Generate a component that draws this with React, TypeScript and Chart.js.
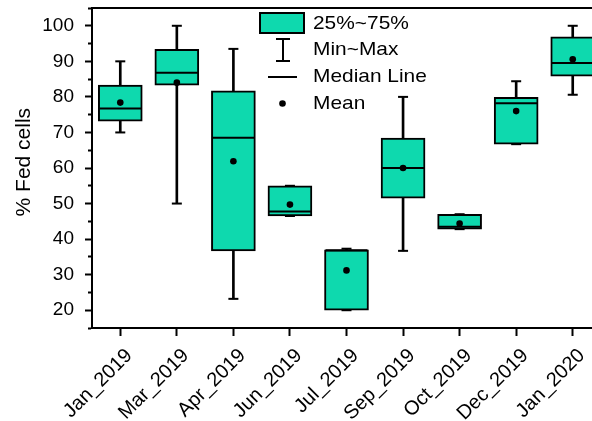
import React, { useEffect, useRef } from 'react';
import { Chart, registerables } from 'chart.js';

Chart.register(...registerables);

// ---- Data ----
const categories = ['Jan_2019', 'Mar_2019', 'Apr_2019', 'Jun_2019', 'Jul_2019', 'Sep_2019', 'Oct_2019', 'Dec_2019', 'Jan_2020'];
const minVals = [70.0, 50.0, 23.2, 46.5, 20.0, 36.7, 42.8, 66.7, 80.6];
const q1Vals = [73.2, 83.3, 36.7, 46.5, 20.0, 51.5, 42.8, 66.7, 85.8];
const medianVals = [76.7, 86.8, 68.5, 47.8, 36.9, 60.0, 43.5, 78.2, 89.5];
const q3Vals = [83.3, 93.4, 81.7, 55.0, 37.0, 68.4, 47.0, 79.9, 96.9];
const maxVals = [90.0, 100.0, 93.5, 55.0, 37.3, 80.0, 47.0, 84.4, 100.0];
const meanVals = [78.4, 84.0, 61.9, 49.7, 31.2, 60.0, 44.4, 76.0, 90.6];
const legendLabels = ['25%~75%', 'Min~Max', 'Median Line', 'Mean'];
const yTitle = '% Fed cells';

const TEAL = 'rgb(14, 217, 174)';
const FONT = "'Liberation Sans', Arial, sans-serif";
// The y-axis label overhang puts the plot top at 22px inside the canvas;
// the canvas is shifted up so that the plot top sits at 7px on the page.
const SHIFT = 15;
// The plot continues past the right edge of the page (last box is cut off).
const CANVAS_W = 624;

const originLegend = {
  id: 'originLegend',
  afterDraw(chart: any) {
    const ctx = chart.ctx as CanvasRenderingContext2D;
    ctx.save();
    ctx.translate(0, SHIFT);
    ctx.strokeStyle = '#000';
    ctx.lineWidth = 2;
    // 25%~75% box
    ctx.fillStyle = TEAL;
    ctx.fillRect(259, 12, 46, 22);
    ctx.strokeRect(260, 13, 44, 20);
    // Min~Max I-bar
    ctx.beginPath();
    ctx.moveTo(283, 39); ctx.lineTo(283, 61);
    ctx.moveTo(276, 39); ctx.lineTo(290, 39);
    ctx.moveTo(276, 61); ctx.lineTo(290, 61);
    ctx.stroke();
    // Median line
    ctx.beginPath();
    ctx.moveTo(268, 77); ctx.lineTo(297, 77);
    ctx.stroke();
    // Mean dot
    ctx.fillStyle = '#000';
    ctx.beginPath();
    ctx.arc(282.5, 103.5, 3.3, 0, Math.PI * 2);
    ctx.fill();
    // Texts
    ctx.font = `19px ${FONT}`;
    ctx.textBaseline = 'middle';
    ctx.textAlign = 'left';
    const ys = [23.5, 50, 77, 103.5];
    legendLabels.forEach((t, i) => {
      ctx.save();
      ctx.translate(313, ys[i]);
      ctx.scale(1.1, 1);
      ctx.fillText(t, 0, 0);
      ctx.restore();
    });
    ctx.restore();
  },
};

export default function App() {
  const ref = useRef<HTMLCanvasElement | null>(null);

  useEffect(() => {
    document.body.style.margin = '0';
    document.body.style.overflow = 'hidden';
    const canvas = ref.current;
    if (!canvas) return;
    Chart.defaults.font.family = FONT;
    Chart.defaults.color = '#000';

    const isMinor = (c: any) => c && c.tick && Math.round(c.tick.value) % 10 !== 0;

    const chart = new Chart(canvas, {
      type: 'bar',
      data: {
        labels: categories,
        datasets: [
          {
            type: 'line', label: 'Mean', data: meanVals, showLine: false,
            pointStyle: 'circle', pointRadius: 3.3, pointHoverRadius: 3.3,
            pointBackgroundColor: '#000', pointBorderColor: '#000', pointBorderWidth: 0, order: 1,
          } as any,
          {
            type: 'line', label: 'Max', data: maxVals, showLine: false,
            pointStyle: 'line', pointRadius: 5, pointHoverRadius: 5,
            pointBorderColor: '#000', pointBorderWidth: 2, order: 2,
          } as any,
          {
            type: 'line', label: 'Min', data: minVals, showLine: false,
            pointStyle: 'line', pointRadius: 5, pointHoverRadius: 5,
            pointBorderColor: '#000', pointBorderWidth: 2, order: 2,
          } as any,
          {
            type: 'line', label: 'Median', data: medianVals, showLine: false,
            pointStyle: 'line', pointRadius: 21, pointHoverRadius: 21,
            pointBorderColor: '#000', pointBorderWidth: 2, order: 3,
          } as any,
          {
            type: 'bar', label: '25%~75%',
            data: categories.map((_, i) => [q1Vals[i], q3Vals[i]]),
            backgroundColor: TEAL, borderColor: '#000', borderWidth: 2, borderSkipped: false,
            barThickness: 44, grouped: false, order: 4,
          } as any,
          {
            type: 'bar', label: 'Min~Max',
            data: categories.map((_, i) => [minVals[i], maxVals[i]]),
            backgroundColor: '#000', borderWidth: 0, barThickness: 2, grouped: false, order: 5,
          } as any,
        ],
      },
      options: {
        animation: false,
        responsive: false,
        events: [],
        layout: { padding: { top: 0, left: 0, right: 0, bottom: 0 } },
        plugins: { legend: { display: false }, tooltip: { enabled: false } },
        scales: {
          x: {
            type: 'category', position: 'bottom', offset: true,
            grid: { display: true, drawOnChartArea: false, offset: false, tickLength: 8, tickWidth: 2, tickColor: '#000' },
            border: { display: true, color: '#000', width: 2 },
            ticks: { color: '#000', font: { family: FONT, size: 20 }, maxRotation: 45, minRotation: 45, autoSkip: false, padding: 8, labelOffset: 9 },
            afterFit: (s: any) => { s.height = 93; },
          },
          xTop: {
            type: 'category', position: 'top', offset: true,
            grid: { display: false, drawTicks: false },
            border: { display: true, color: '#000', width: 2 },
            ticks: { display: false },
            afterFit: (s: any) => { s.height = 0; },
          },
          y: {
            type: 'linear', position: 'left', min: 15, max: 105,
            ticks: {
              stepSize: 5, maxTicksLimit: 100, autoSkip: false, color: '#000', padding: 11,
              font: { family: FONT, size: 19, lineHeight: '22px' },
              callback: (v: any) => (Math.round(Number(v)) % 10 === 0 ? String(v) : ''),
            },
            grid: {
              display: true, drawOnChartArea: false, tickLength: 7, tickWidth: 2, tickColor: '#000',
              tickBorderDash: (c: any) => (isMinor(c) ? [3, 3] : []),
              tickBorderDashOffset: (c: any) => (isMinor(c) ? 3 : 0),
            },
            border: { display: true, color: '#000', width: 2 },
            title: { display: true, text: '  ' + yTitle, color: '#000', font: { family: FONT, size: 21 }, padding: { top: 12, bottom: 0 } },
            afterFit: (s: any) => { s.width = 92; },
          },
        },
      } as any,
      plugins: [originLegend],
    });
    return () => chart.destroy();
  }, []);

  return (
    <div style={{ width: 592, height: 421, overflow: 'hidden', position: 'relative' }}>
      <canvas
        ref={ref}
        width={CANVAS_W}
        height={421 + SHIFT}
        style={{ display: 'block', position: 'absolute', left: 0, top: -SHIFT }}
      />
    </div>
  );
}
